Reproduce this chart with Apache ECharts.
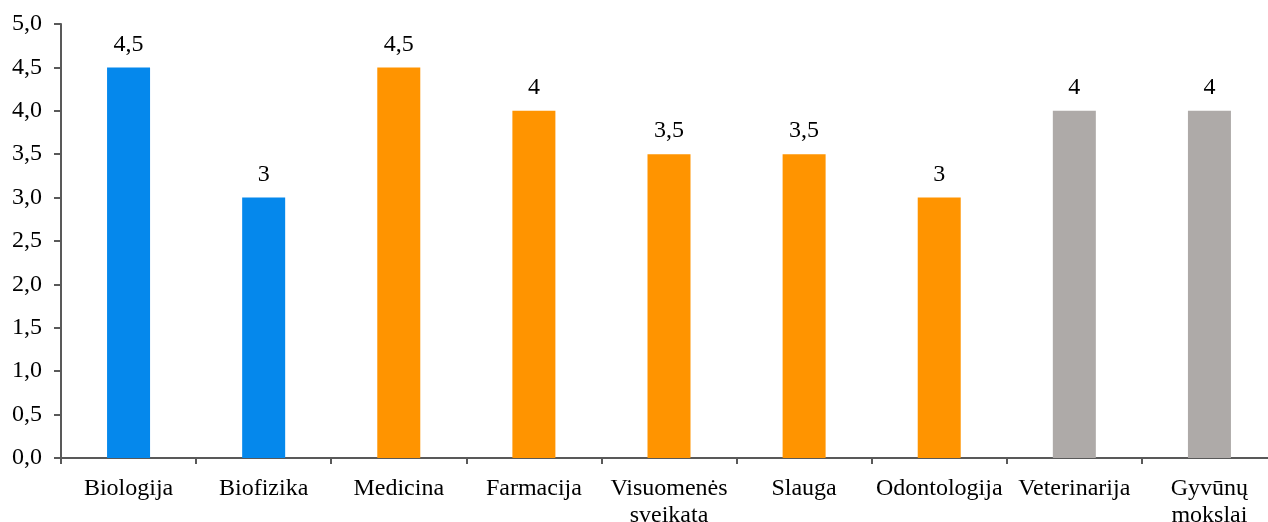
<!DOCTYPE html>
<html>
<head>
<meta charset="utf-8">
<script src="https://cdn.jsdelivr.net/npm/echarts@6/dist/echarts.min.js"></script>
<style>
  html, body { margin: 0; padding: 0; background: #fff; }
  #chart { width: 1268px; height: 522px; }
</style>
</head>
<body>
<div id="chart"></div>
<script>
// categories and values
const categories = ["Biologija", "Biofizika", "Medicina", "Farmacija", "Visuomenės\nsveikata", "Slauga", "Odontologija", "Veterinarija", "Gyvūnų\nmokslai"];
const values = [4.5, 3, 4.5, 4, 3.5, 3.5, 3, 4, 4];
const groups = ["blue", "blue", "orange", "orange", "orange", "orange", "orange", "gray", "gray"];

const colors = { blue: "#0588ec", orange: "#ff9400", gray: "#aeaaa8" };
const font = "'Liberation Serif', 'Times New Roman', serif";
const comma = v => String(v).replace(".", ",");

const chart = echarts.init(document.getElementById("chart"));
chart.setOption({
  animation: false,
  backgroundColor: "#fff",
  // plot runs slightly past the right edge, as in the reference
  grid: { left: 61, width: 1216, top: 24, bottom: 64, outerBoundsMode: "none" },
  xAxis: {
    type: "category",
    data: categories,
    axisLine: { lineStyle: { color: "#595959", width: 2 } },
    axisTick: { show: true, length: 6, lineStyle: { color: "#595959", width: 2 } },
    axisLabel: { color: "#000", fontFamily: font, fontSize: 24, lineHeight: 27, margin: 17, interval: 0 },
  },
  yAxis: {
    type: "value",
    min: 0,
    max: 5,
    interval: 0.5,
    splitLine: { show: false },
    axisLine: { show: true, lineStyle: { color: "#595959", width: 2 } },
    axisTick: { show: true, length: 7, lineStyle: { color: "#595959", width: 2 } },
    axisLabel: {
      color: "#000", fontFamily: font, fontSize: 24, margin: 19,
      formatter: v => v.toFixed(1).replace(".", ","),
    },
  },
  series: [{
    type: "bar",
    barWidth: 43,
    data: values.map((v, i) => ({ value: v, itemStyle: { color: colors[groups[i]] } })),
    label: {
      show: true, position: "top", distance: 11,
      color: "#000", fontFamily: font, fontSize: 24,
      formatter: p => comma(p.value),
    },
  }],
});
</script>
</body>
</html>
